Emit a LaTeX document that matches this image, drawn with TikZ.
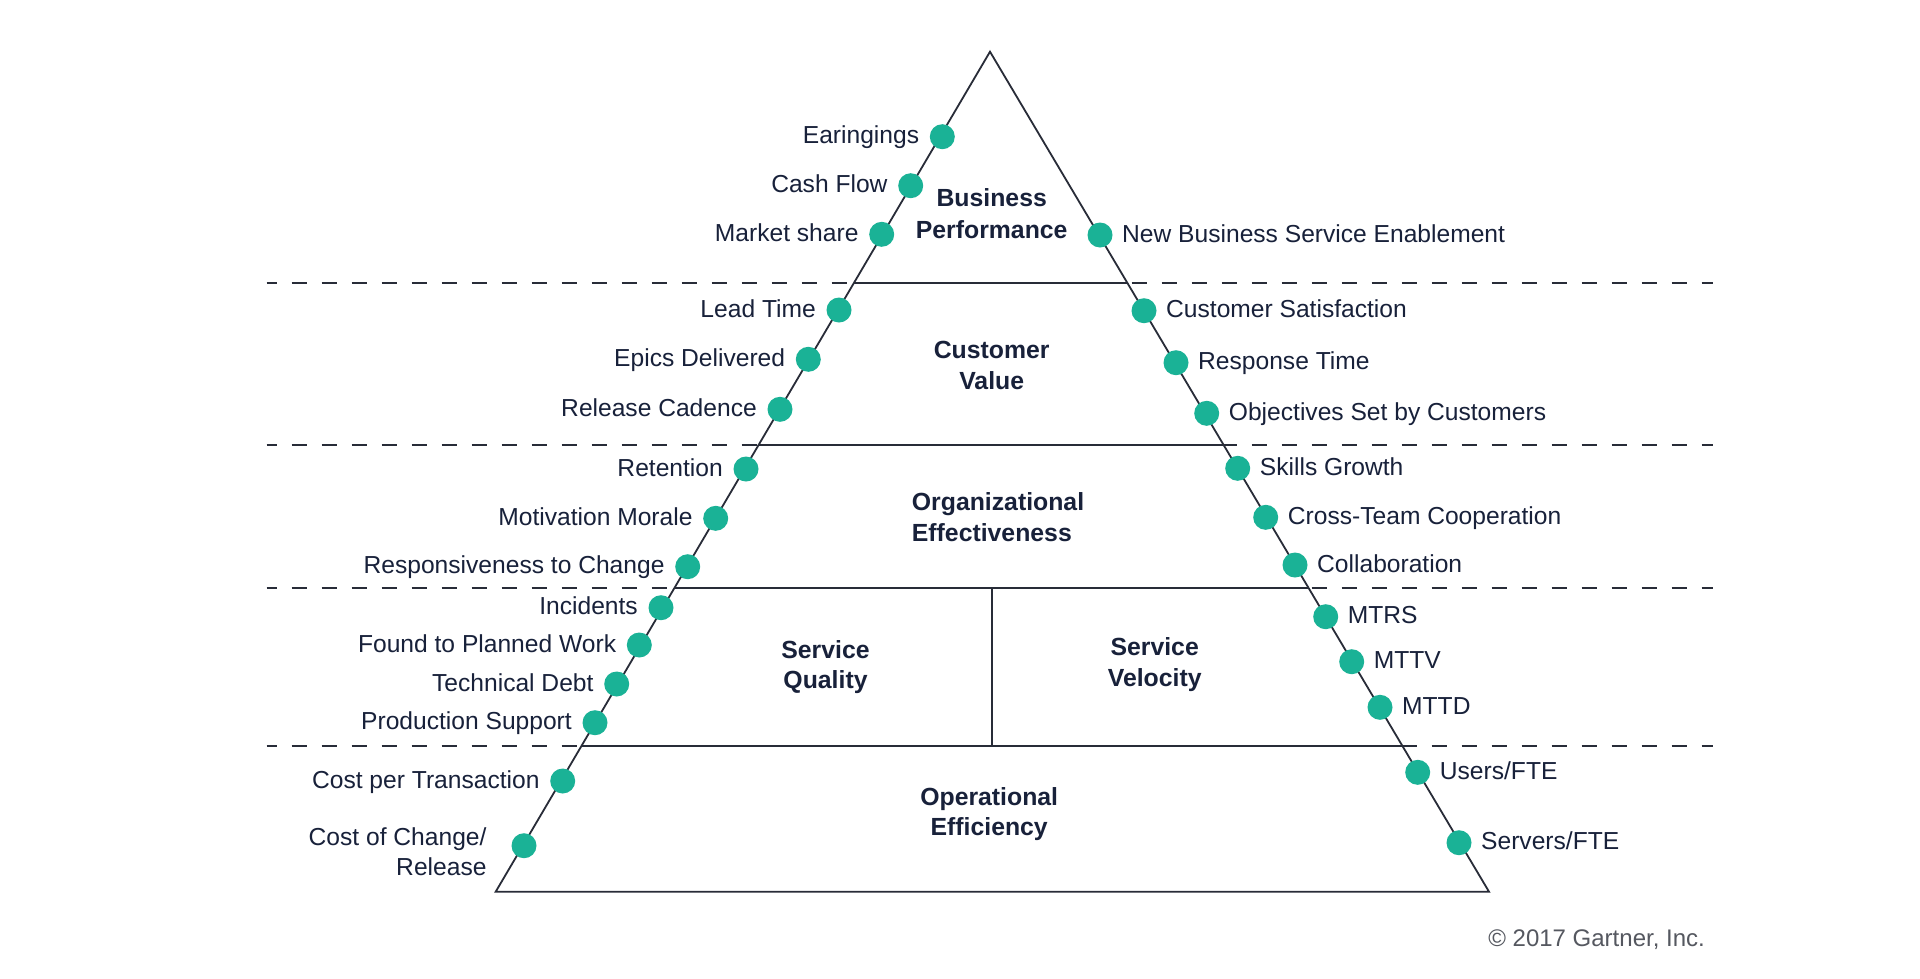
\documentclass[tikz,border=0pt]{standalone}
\usepackage{fontspec}
\setmainfont{Liberation Sans}
\usetikzlibrary{calc}
\definecolor{textc}{RGB}{24,33,58}
\definecolor{linec}{RGB}{40,44,56}
\definecolor{dotc}{RGB}{26,178,150}
\definecolor{copyc}{RGB}{85,88,96}
\newcommand\labfont{\fontsize{24.6}{30}\selectfont}
\newcommand\midfont{\fontsize{24.8}{30}\selectfont\bfseries}
\newcommand\copyfont{\fontsize{24}{30}\selectfont}
\tikzset{
  dotn/.style={circle, fill=dotc, draw=none, minimum size=25pt, inner sep=0pt},
  llab/.style={anchor=base east, inner sep=0pt, text=textc, font=\labfont},
  rlab/.style={anchor=base west, inner sep=0pt, text=textc, font=\labfont},
  midlab/.style={anchor=base, inner sep=0pt, text=textc, font=\midfont},
  edge/.style={draw=linec, line width=1.8pt},
  sep/.style={draw=linec, line width=1.8pt, dash pattern=on 15pt off 15pt, dash phase=5pt},
}
\begin{document}
\begin{tikzpicture}[x=1pt,y=-1pt]
\useasboundingbox (0,0) rectangle (1920,978);
\fill[white] (0,0) rectangle (1920,978);
% triangle corners
\coordinate (apex) at (990,51.7);
\coordinate (bl) at (495.7,891.7);
\coordinate (br) at (1489,891.7);
% dashed separators
\foreach \i/\y in {1/282.7,2/445,3/587.8,4/745.7}{
  \coordinate (sl\i) at (266.7,\y);
  \coordinate (sr\i) at (1713,\y);
  \draw[sep] (sl\i) -- (sr\i);
}
% inner solid tier lines
\foreach \i/\t in {1/0.2750,2/0.4682,3/0.6382,4/0.8262}{
  \coordinate (il\i) at ($(apex)!\t!(bl)$);
  \coordinate (ir\i) at ($(apex)!\t!(br)$);
  \draw[edge] (il\i) -- (ir\i);
}
% vertical divider
\coordinate (vt) at (991.7,587.8);
\coordinate (vb) at (991.7,745.7);
\draw[edge] (vt) -- (vb);
% triangle
\draw[edge, line join=miter] (apex) -- (bl) -- (br) -- cycle;
% left dots and labels
\foreach \n/\x/\y/\t in {
  1/942.3/136.7/Earingings,
  2/910.7/185.7/Cash Flow,
  3/881.7/234.3/Market share,
  4/839/310/Lead Time,
  5/808.3/359.3/Epics Delivered,
  6/780/409.3/Release Cadence,
  7/746/469/Retention,
  8/715.7/518.3/Motivation Morale,
  9/687.7/566.7/Responsiveness to Change,
  10/661/607.7/Incidents,
  11/639.3/645/Found to Planned Work,
  12/616.7/684/Technical Debt,
  13/595/722.7/Production Support,
  14/562.7/781/Cost per Transaction}{
  \node[dotn] (dL\n) at (\x,\y) {};
  \node[llab] (tL\n) at ([xshift=-23pt,yshift=-7pt]dL\n.center) {\t};
}
\node[dotn] (dL15) at (524,845.7) {};
\node[llab] (tL15a) at ([xshift=-37.3pt]dL15.center) {Cost of Change/};
\node[llab] (tL15b) at ([xshift=-37.3pt,yshift=-30pt]dL15.center) {Release};
% right dots and labels
\foreach \n/\x/\y/\t in {
  1/1100/235/{New Business Service Enablement},
  2/1144/310.7/{Customer Satisfaction},
  3/1176/362.7/{Response Time},
  4/1206.7/413.3/{Objectives Set by Customers},
  5/1237.7/468.3/{Skills Growth},
  6/1265.7/517.3/{Cross-Team Cooperation},
  7/1295/565/{Collaboration},
  8/1325.7/616.7/{MTRS},
  9/1351.7/661.7/{MTTV},
  10/1380/707.3/{MTTD},
  11/1417.7/772.3/{Users/FTE},
  12/1459/842.7/{Servers/FTE}}{
  \node[dotn] (dR\n) at (\x,\y) {};
  \node[rlab] (tR\n) at ([xshift=22pt,yshift=-7pt]dR\n.center) {\t};
}
% tier titles
\node[midlab] (bp1) at (991.7,206.7) {Business};
\node[midlab] (bp2) at (991.7,238) {Performance};
\node[midlab] (cv1) at (991.7,358.3) {Customer};
\node[midlab] (cv2) at (991.7,389.3) {Value};
\node[midlab, anchor=base west] (oe1) at (911.7,510) {Organizational};
\node[midlab, anchor=base west] (oe2) at (911.7,541) {Effectiveness};
\node[midlab] (sq1) at (825.5,658.3) {Service};
\node[midlab] (sq2) at (825.5,688.3) {Quality};
\node[midlab] (sv1) at (1154.7,655) {Service};
\node[midlab] (sv2) at (1154.7,686) {Velocity};
\node[midlab] (of1) at (989.2,805) {Operational};
\node[midlab] (of2) at (989.2,835) {Efficiency};
% copyright
\node[anchor=base east, inner sep=0pt, text=copyc, font=\copyfont] (copy) at (1705,946) {\textcopyright{} 2017 Gartner, Inc.};
\end{tikzpicture}
\end{document}
